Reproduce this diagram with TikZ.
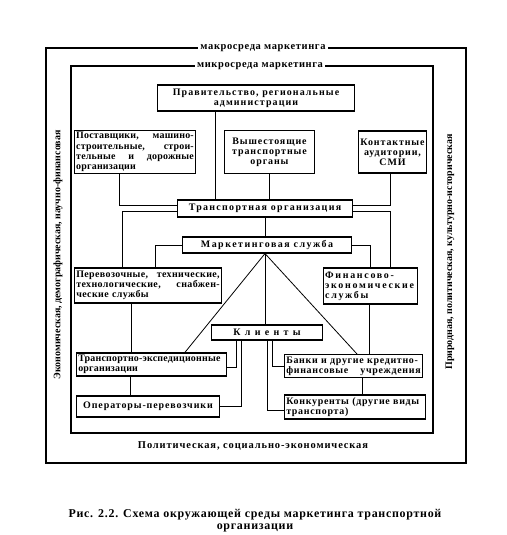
\documentclass[tikz,border=0pt]{standalone}
\usepackage{fontspec}
\setmainfont{Liberation Serif}
\usetikzlibrary{positioning}

\begin{document}
\begin{tikzpicture}[x=1bp, y=-1bp,
    sp/.style={font=\bfseries\fontsize{10}{10.2}\selectfont\addfontfeatures{LetterSpace=#1}},
    box/.style={draw, line width=1.2pt, inner sep=2pt, sp=9},
    conn/.style={line width=0.8pt},
    frame/.style={line width=1.2pt},
    lbl/.style={fill=white, inner sep=2pt, font=\bfseries\fontsize{10.5}{11}\selectfont\addfontfeatures{LetterSpace=6}}]

    % Рамка рисунка
    \useasboundingbox (0,0) rectangle (507,535);

    % Макросреда и микросреда
    \draw[frame] (46,48) rectangle (466,463);
    \draw[frame] (71,66) rectangle (433,433);
    \node[lbl] (macro) at (263,48) {макросреда маркетинга};
    \node[lbl] (micro) at (260,66) {микросреда маркетинга};
    \node[lbl, fill=none, font=\bfseries\fontsize{10.5}{11}\selectfont\addfontfeatures{LetterSpace=8.5}] (bottom) at (253,446)
        {Политическая, социально-экономическая};
    \node[lbl, fill=none, sp=0, rotate=90] (left) at (58,255) {Экономическая, демографическая, научно-финансовая};
    \node[lbl, fill=none, sp=0, rotate=90] (right) at (450,252) {Природная, политическая, культурно-историческая};

    % Узлы
    \node[box, sp=11, minimum width=198, minimum height=26, align=center] (gov) at (256,98)
        {Правительство, региональные\\администрации};
    \node[box, sp=2, text width=118, minimum height=42, align=left] (sup) at (135,152)
        {Поставщики,\hfill машино-\\строительные,\hfill строи-\\тельные\hfill и\hfill дорожные\\организации};
    \node[box, minimum width=91, minimum height=43, align=center] (vys) at (269.5,152)
        {Вышестоящие\\транспортные\\органы};
    \node[box, minimum width=69, minimum height=42, align=center] (kont) at (392.5,152)
        {Контактные\\аудитории,\\СМИ};
    \node[box, sp=13, minimum width=176, minimum height=17] (to) at (265,208.5)
        {Транспортная организация};
    \node[box, sp=15, minimum width=170, minimum height=16] (ms) at (267,245)
        {Маркетинговая служба};
    \node[box, sp=4, text width=144, minimum height=35, align=left] (per) at (148,285.5)
        {Перевозочные,\hfill технические,\\технологические,\hfill снабжен-\\ческие службы};
    \node[box, sp=17, text width=91, minimum height=36, align=left] (fin) at (370.5,286)
        {Финансово-\\экономические\\службы};
    \node[box, sp=18, minimum width=112, minimum height=15] (kl) at (267,332.5)
        {К л и е н т ы};
    \node[box, sp=2, text width=147, minimum height=23, align=left] (tex) at (151.5,364.5)
        {\mbox{Транспортно-экспедиционные}\\организации};
    \node[box, sp=7, text width=135, minimum height=22, align=left] (ban) at (353.5,366)
        {Банки и другие кредитно-\\финансовые\hfill учреждения};
    \node[box, minimum width=144, minimum height=21] (op) at (148,406.5)
        {Операторы-перевозчики};
    \node[box, sp=7, text width=138, minimum height=24, align=left] (kon) at (355,407)
        {Конкуренты (другие виды\\транспорта)};

    % Связи
    \draw[conn] (gov.south -| to.north west) ++(39,0) coordinate (g1) -- (g1 |- to.north);
    \draw[conn] (vys.south) -- (vys.south |- to.north);
    \draw[conn] ([xshift=-16]sup.south) |- ([yshift=3.5]to.west);
    \draw[conn] ([xshift=-2.5]kont.south) |- ([yshift=3.5]to.east);
    \draw[conn] ([yshift=-2.5]to.west) -| ([xshift=-26]per.north);
    \draw[conn] ([yshift=-2.5]to.east) -| ([xshift=20]fin.north);
    \draw[conn] (to.south) -- (to.south |- ms.north);
    \draw[conn] (ms.west) -| ([xshift=7]per.north);
    \draw[conn] (ms.east) -| ([xshift=-0.5]fin.north);
    \draw[conn] (ms.south) ++(-2,0) coordinate (m0) -- (m0 |- kl.north);
    \draw[conn] (m0) -- ([xshift=33.5]tex.north);
    \draw[conn] (m0) -- ([xshift=3.5]ban.north);
    \draw[conn] ([xshift=-17]per.south) -- ([xshift=-17]per.south |- tex.north);
    \draw[conn] ([xshift=-21.5]tex.south) -- ([xshift=-21.5]tex.south |- op.north);
    \draw[conn] ([xshift=-1.5]fin.south) -- ([xshift=-1.5]fin.south |- ban.north);
    \draw[conn] ([xshift=8.5]ban.south) -- ([xshift=8.5]ban.south |- kon.north);
    \draw[conn] ([xshift=-31]kl.south) |- ([yshift=-2.5]tex.east);
    \draw[conn] ([xshift=-26]kl.south) |- (op.east);
    \draw[conn] ([xshift=5]kl.south) |- ([yshift=-0.5]ban.west);
    \draw[conn] ([xshift=0]kl.south) |- ([yshift=-3.5]kon.west);

    % Подпись
    \node[lbl, fill=none, align=center, font=\bfseries\fontsize{12}{12}\selectfont\addfontfeatures{LetterSpace=6}] (cap) at (255,521)
        {Рис. 2.2. Схема окружающей среды маркетинга транспортной\\организации};

\end{tikzpicture}
\end{document}
